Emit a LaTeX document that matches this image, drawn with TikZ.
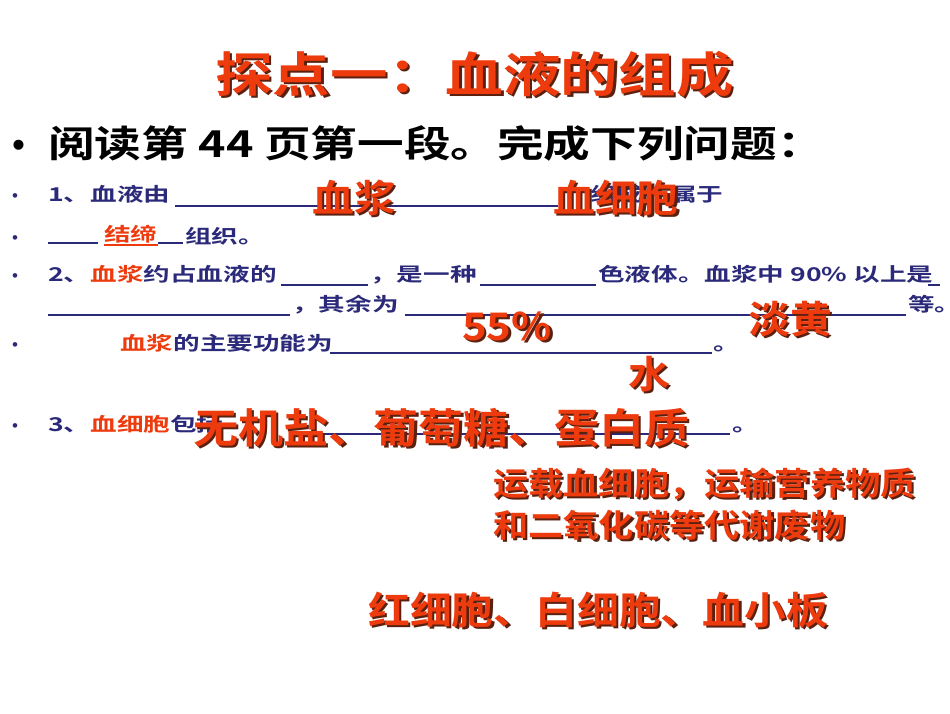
\documentclass[tikz,border=0pt]{standalone}
\usepackage{fontspec}
\setmainfont{Liberation Sans}
\newfontfamily\cjkB{Noto Sans CJK SC}[BoldFont={* Bold},FakeStretch=1.4]
\newfontfamily\cjkR{Noto Sans CJK SC}[BoldFont={* Bold},FakeStretch=1.1]
\newfontfamily\cjkT{Noto Sans CJK SC}[BoldFont={* Bold},FakeStretch=1.2]
\newfontfamily\cjkQ{Noto Sans CJK SC}[BoldFont={* Bold},FakeStretch=1.26]
\definecolor{navy}{HTML}{2B2A7A}
\definecolor{ansred}{HTML}{EE3B0E}
\definecolor{shad}{HTML}{5A2010}
\newcommand{\rt}[6]{% name, x, y, size, text, family
 \node[anchor=base west,inner sep=0pt,text=shad,font=#6\bfseries\fontsize{#4}{#4}\selectfont] at (#2+2.5,#3+2.5) {#5};
 \node (#1)[anchor=base west,inner sep=0pt,text=ansred,font=#6\bfseries\fontsize{#4}{#4}\selectfont] at (#2,#3) {#5};}
\begin{document}
\begin{tikzpicture}[x=1pt,y=-1pt,
 bt/.style={anchor=base west,inner sep=0pt,text=navy,font=\cjkB\bfseries\fontsize{19}{19}\selectfont},
 bul/.style={anchor=base west,inner sep=0pt,text=navy,font=\fontsize{17}{17}\selectfont},
 ul/.style={draw=navy,line width=1.3pt}]
\fill[white] (0,0) rectangle (950,713);
\useasboundingbox (0,0) rectangle (950,713);
\rt{title}{215}{92}{48}{探点一：血液的组成}{\cjkT}
\node (qb)[anchor=base west,inner sep=0pt,font=\fontsize{37}{37}\selectfont] at (12,157) {•};
\node (q)[anchor=base west,inner sep=0pt,font=\cjkQ\bfseries\fontsize{37}{37}\selectfont] at (48,157) {阅读第 44 页第一段。完成下列问题：};
% bullets
\foreach \y/\n in {201/b1,243/b2,281/b3,350/b5,431/b6}{\node (\n)[bul] at (12,\y) {•};}
% row 1
\node (r1)[bt] at (48,201) {1、血液由};
\draw[ul] (175,206) -- (558,206);
\node (r1b)[bt] at (590,201) {组成，属于};
% row 2
\draw[ul] (48,243) -- (98,243);
\node (r2a)[bt,text=ansred] at (104,241) {结缔};
\draw[draw=ansred,line width=1.2pt] (104,245) -- (158,245);
\draw[ul] (158,243) -- (183,243);
\node (r2b)[bt] at (185,243) {组织。};
% row 3
\node (r3a)[bt] at (48,281) {2、\textcolor{ansred}{血浆}约占血液的};
\draw[ul] (281,285) -- (368,285);
\node (r3b)[bt] at (370,281) {，是一种};
\draw[ul] (480,285) -- (596,285);
\node (r3c)[bt] at (598,281) {色液体。血浆中 90\% 以上是};
\draw[ul] (928,285) -- (940,285);
% row 4
\draw[ul] (48,315) -- (290,315);
\node (r4a)[bt] at (292,311) {，其余为};
\draw[ul] (405,315) -- (906,315);
\node (r4b)[bt] at (908,311) {等。};
% row 5
\node (r5a)[bt] at (120,350) {\textcolor{ansred}{血浆}的主要功能为};
\draw[ul] (330,353) -- (712,353);
\node (r5b)[bt] at (713,350) {。};
% row 6
\node (r6a)[bt] at (48,431) {3、\textcolor{ansred}{血细胞}包括};
\draw[ul] (300,434) -- (730,434);
\node (r6b)[bt] at (732,431) {。};
% answers
\rt{a1}{312}{212}{38}{血浆}{\cjkR}
\rt{a2}{553}{212}{38}{血细胞}{\cjkR}
\rt{a3}{462}{340}{38}{55\%}{\cjkR}
\rt{a4}{748}{333}{38}{淡黄}{\cjkR}
\rt{a5}{628}{388}{38}{水}{\cjkR}
\rt{a6}{193}{443}{41}{无机盐、葡萄糖、蛋白质}{\cjkR}
\rt{a7}{493}{495}{32}{运载血细胞，运输营养物质}{\cjkR}
\rt{a8}{493}{537}{32}{和二氧化碳等代谢废物}{\cjkR}
\rt{a9}{368}{624}{38}{红细胞、白细胞、血小板}{\cjkR}
\end{tikzpicture}
\end{document}
